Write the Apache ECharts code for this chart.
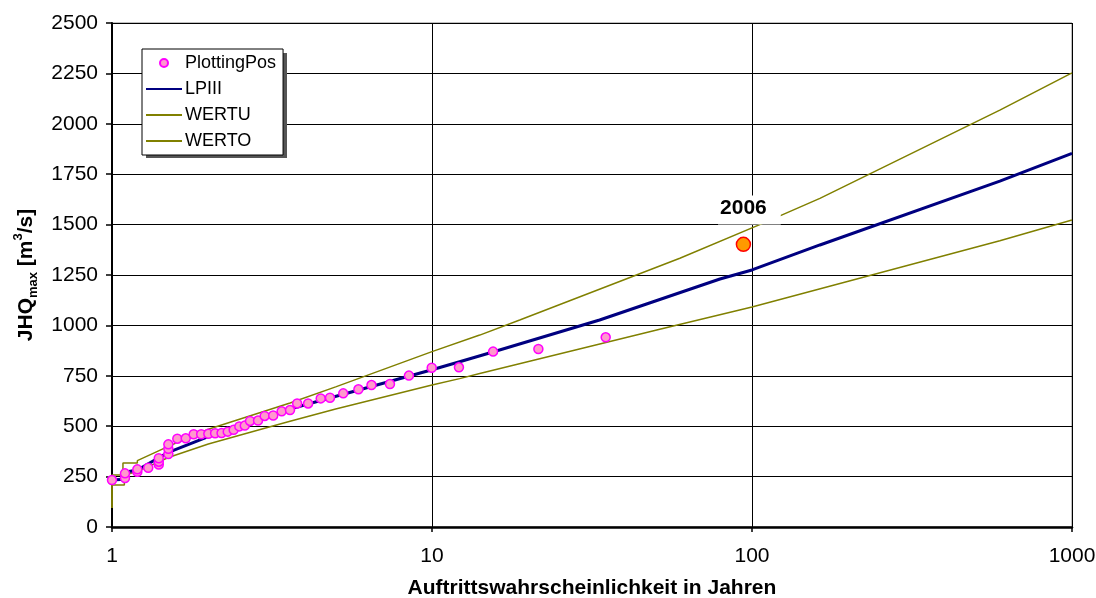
<!DOCTYPE html>
<html>
<head>
<meta charset="utf-8">
<script src="https://cdn.jsdelivr.net/npm/echarts@6/dist/echarts.min.js"></script>
<style>
html,body{margin:0;padding:0;background:#fff;}
#c{width:1096px;height:598px;}
</style>
</head>
<body>
<div id="c"></div>
<script>
// Plotting positions: return period T [years] and JHQmax [m3/s]
var plotT = [1.0, 1.098, 1.098, 1.2, 1.2, 1.298, 1.4, 1.4, 1.4, 1.5, 1.5, 1.5,
  1.6, 1.7, 1.8, 1.9, 2.0, 2.1, 2.2, 2.3, 2.4, 2.5, 2.6, 2.7, 2.86, 3.0, 3.19, 3.39,
  3.6, 3.79, 4.1, 4.49, 4.8, 5.28, 5.89, 6.47, 7.39, 8.47, 9.98, 12.14, 15.52, 21.5, 34.9];
var plotQ = [233, 243, 266, 274, 286, 294, 310, 324, 341, 362, 388, 410,
  438, 440, 460, 460, 462, 465, 466, 473, 482, 499, 503, 526, 528, 551, 553, 574,
  580, 613, 613, 638, 641, 663, 683, 704, 709, 751, 790, 792, 870, 883, 941];

// Event 2006
var evT = [94];
var evQ = [1402];
var evLabel = '2006';

// LPIII fitted curve
var lpT = [1.0, 1.095, 1.095, 1.2, 1.5, 2.0, 3.6, 10, 12.2, 15.5, 33.4, 79.4, 100, 163, 595, 1000];
var lpQ = [233, 237, 272, 283, 370, 448, 585, 780, 820, 868, 1027, 1230, 1275, 1399, 1716, 1853];

// WERTU (lower bound)
var wuT = [1.0, 1.0, 1.093, 1.093, 1.2, 1.5, 2.0, 3.0, 3.6, 5.0, 10, 12.2, 14.1, 51.5, 100, 595, 1000];
var wuQ = [94, 208, 208, 258, 275, 345, 412, 490, 525, 585, 704, 736, 761, 981, 1091, 1420, 1523];

// WERTO (upper bound)
var woT = [1.0, 1.0, 1.082, 1.082, 1.2, 1.2, 1.5, 2.0, 3.6, 5.0, 10, 14.1, 18.8, 59.5, 108, 163, 595, 1000];
var woQ = [94, 258, 258, 317, 317, 329, 400, 485, 615, 695, 870, 952, 1027, 1333, 1506, 1630, 2068, 2253];

var yTicks = [0, 250, 500, 750, 1000, 1250, 1500, 1750, 2000, 2250, 2500];
var xTicks = [1, 10, 100, 1000];
var seriesNames = ['PlottingPos', 'LPIII', 'WERTU', 'WERTO'];

function pairs(xs, ys) { return xs.map(function (x, i) { return [x, ys[i]]; }); }

var FONT = "'Liberation Sans', Arial, sans-serif";
var chart = echarts.init(document.getElementById('c'), null, {renderer: 'canvas'});
chart.setOption({
  animation: false,
  backgroundColor: '#fff',
  textStyle: {fontFamily: FONT, color: '#000'},
  grid: {left: 112, right: 24, top: 23, bottom: 71, containLabel: false, outerBoundsMode: 'none',
    show: true, borderColor: '#808080', borderWidth: 1, backgroundColor: 'transparent'},
  graphic: [{
    type: 'rect', left: 146, top: 53, z: 3, silent: true,
    shape: {width: 141, height: 105}, style: {fill: '#555'}
  }],
  legend: {
    orient: 'vertical', left: 142, top: 49, z: 10,
    data: [
      {name: seriesNames[0], icon: 'circle'},
      {name: seriesNames[1], itemStyle: {opacity: 0}},
      {name: seriesNames[2], itemStyle: {opacity: 0}},
      {name: seriesNames[3], itemStyle: {opacity: 0}}
    ],
    itemWidth: 36, itemHeight: 8, itemGap: 8,
    padding: [5, 7, 5, 3],
    backgroundColor: '#fff', borderColor: '#000', borderWidth: 1,
    textStyle: {fontFamily: FONT, fontSize: 18, color: '#000', padding: [0, 0, 0, -2]},
    selectedMode: false
  },
  xAxis: {
    type: 'log', logBase: 10, min: 1, max: 1000,
    name: 'Auftrittswahrscheinlichkeit in Jahren', nameLocation: 'middle', nameGap: 51,
    nameTextStyle: {fontFamily: FONT, fontSize: 21, fontWeight: 'bold', color: '#000'},
    axisLine: {show: true, lineStyle: {color: '#000', width: 2.5}},
    axisTick: {show: true, length: 5, lineStyle: {color: '#000', width: 1.5}},
    axisLabel: {fontFamily: FONT, fontSize: 21, color: '#000', margin: 19,
      formatter: function (v) { return xTicks.indexOf(Math.round(v)) >= 0 ? String(Math.round(v)) : ''; }},
    splitLine: {show: true, lineStyle: {color: '#000', width: 1}},
    minorTick: {show: false}
  },
  yAxis: {
    type: 'value', min: yTicks[0], max: yTicks[yTicks.length - 1], interval: 250,
    name: '{b|JHQ}{sub|max}{b| [m}{sup|3}{b|/s]}', nameLocation: 'middle', nameGap: 69,
    nameTextStyle: {
      fontFamily: FONT, fontSize: 21, fontWeight: 'bold', color: '#000',
      rich: {
        b: {fontFamily: FONT, fontSize: 21, fontWeight: 'bold', color: '#000', lineHeight: 28, verticalAlign: 'middle'},
        sub: {fontFamily: FONT, fontSize: 13, fontWeight: 'bold', color: '#000', lineHeight: 28, verticalAlign: 'bottom'},
        sup: {fontFamily: FONT, fontSize: 13, fontWeight: 'bold', color: '#000', lineHeight: 28, verticalAlign: 'top'}
      }
    },
    axisLine: {show: true, lineStyle: {color: '#000', width: 2}},
    axisTick: {show: true, length: 6, lineStyle: {color: '#000', width: 1.5}},
    axisLabel: {fontFamily: FONT, fontSize: 21, color: '#000', margin: 14,
      formatter: function (v) { return String(v); }},
    splitLine: {show: true, lineStyle: {color: '#000', width: 1}}
  },
  series: [
    {
      name: seriesNames[2], type: 'line', data: pairs(wuT, wuQ), symbol: 'none', showSymbol: false,
      lineStyle: {color: '#808000', width: 1.5}, itemStyle: {color: '#808000'}, z: 2, silent: true
    },
    {
      name: seriesNames[3], type: 'line', data: pairs(woT, woQ), symbol: 'none', showSymbol: false,
      lineStyle: {color: '#808000', width: 1.5}, itemStyle: {color: '#808000'}, z: 2, silent: true
    },
    {
      name: seriesNames[1], type: 'line', data: pairs(lpT, lpQ), symbol: 'none', showSymbol: false,
      lineStyle: {color: '#000080', width: 3}, itemStyle: {color: '#000080'}, z: 3, silent: true
    },
    {
      name: seriesNames[0], type: 'scatter', data: pairs(plotT, plotQ), symbol: 'circle', symbolSize: 9,
      itemStyle: {color: '#FF99CC', borderColor: '#FF00FF', borderWidth: 1.5, opacity: 1}, z: 4, silent: true
    },
    {
      name: 'Ereignis', type: 'scatter', data: pairs(evT, evQ), symbol: 'circle', symbolSize: 14,
      itemStyle: {color: '#FF9900', borderColor: '#FF0000', borderWidth: 1.5, opacity: 1}, z: 6, silent: true,
      label: {show: true, position: 'top', distance: 12, offset: [6, 0], formatter: evLabel,
        fontFamily: FONT, fontSize: 21, fontWeight: 'bold', color: '#000',
        backgroundColor: '#fff', padding: [2, 14, 6, 2]}
    }
  ]
});
</script>
</body>
</html>
